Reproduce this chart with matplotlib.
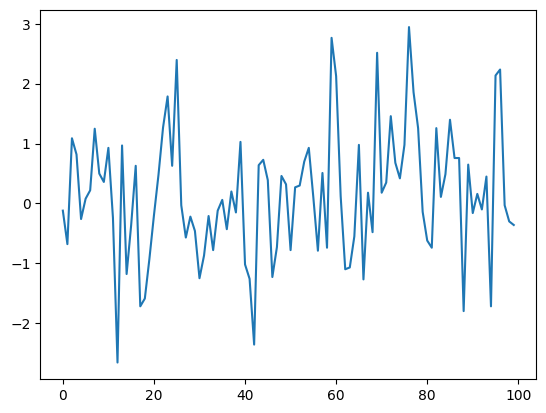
import matplotlib
matplotlib.use("Agg")
import matplotlib.pyplot as plt
import numpy as np

x = list(range(100))
values = [
    -0.12, -0.68, 1.09, 0.82, -0.26, 0.08, 0.22, 1.25, 0.50, 0.36,
    0.93, -0.24, -2.66, 0.97, -1.18, -0.36, 0.63, -1.72, -1.59, -0.93,
    -0.20, 0.48, 1.27, 1.79, 0.63, 2.40, -0.03, -0.57, -0.22, -0.46,
    -1.25, -0.87, -0.21, -0.78, -0.12, 0.06, -0.43, 0.20, -0.15, 1.03,
    -1.02, -1.26, -2.36, 0.64, 0.73, 0.39, -1.23, -0.73, 0.46, 0.32,
    -0.78, 0.27, 0.30, 0.70, 0.93, 0.10, -0.79, 0.51, -0.74, 2.77,
    2.13, 0.12, -1.10, -1.07, -0.55, 0.98, -1.27, 0.18, -0.48, 2.52,
    0.18, 0.35, 1.46, 0.68, 0.42, 0.98, 2.95, 1.86, 1.26, -0.14,
    -0.62, -0.74, 1.26, 0.11, 0.49, 1.40, 0.76, 0.76, -1.80, 0.65,
    -0.16, 0.16, -0.10, 0.45, -1.72, 2.14, 2.24, -0.03, -0.30, -0.36,
]

fig = plt.figure(figsize=(5.46, 4.13), dpi=100)
ax = fig.add_axes([40.3 / 546, (413 - 379.3) / 413, 496 / 546, 369 / 413])
ax.plot(x, values, color="#1f77b4", linewidth=1.5)
ax.set_xticks([0, 20, 40, 60, 80, 100])
ax.set_yticks([-2, -1, 0, 1, 2, 3])
fig.savefig("out.png", dpi=100)
